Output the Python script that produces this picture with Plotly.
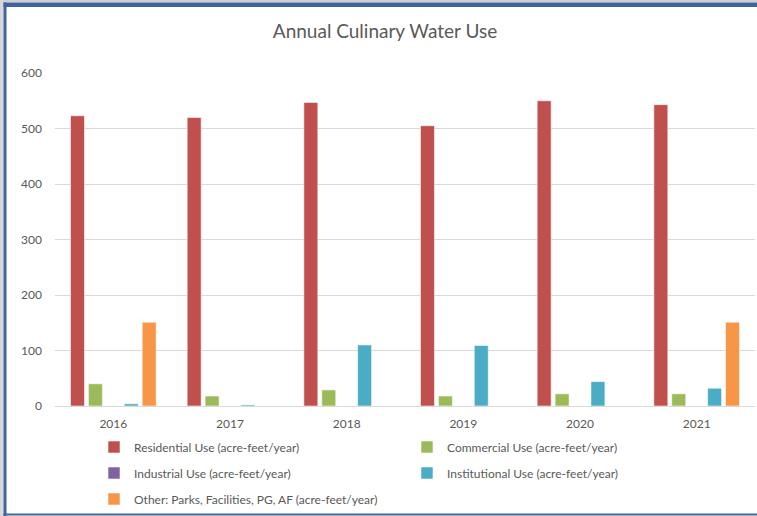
import plotly.graph_objects as go

years = ["2016", "2017", "2018", "2019", "2020", "2021"]
residential = [523, 520, 547, 505, 550, 543]
commercial = [40, 18, 29, 18, 22, 22]
industrial = [0, 0, 0, 0, 0, 0]
institutional = [4, 2, 110, 109, 44, 32]
other = [151, 0, 0, 0, 0, 151]

names = [
    "Residential Use (acre-feet/year)",
    "Commercial Use (acre-feet/year)",
    "Industrial Use (acre-feet/year)",
    "Institutional Use (acre-feet/year)",
    "Other: Parks, Facilities, PG, AF (acre-feet/year)",
]
series = [residential, commercial, industrial, institutional, other]
colors = ["#C0504D", "#9BBB59", "#8064A2", "#4BACC6", "#F79646"]
legend_ids = ["legend", "legend", "legend2", "legend2", "legend3"]

W, H = 757, 516
L, R, T, B = 55, 2, 73, 110

fig = go.Figure()
for n, s, c, lg in zip(names, series, colors, legend_ids):
    fig.add_trace(go.Bar(
        x=years, y=s, name=n,
        marker=dict(color=c, line=dict(color="rgba(255,255,255,0.7)", width=0.8)),
        legend=lg,
    ))

font_family = "Lato, 'Open Sans', sans-serif"
leg_common = dict(
    orientation="h", xref="container", yref="container",
    xanchor="left", yanchor="middle",
    entrywidth=268, entrywidthmode="pixels",
    font=dict(family=font_family, size=12, color="#595959"),
    bgcolor="rgba(0,0,0,0)", borderwidth=0,
    traceorder="normal",
)
lx = 94 / W

fig.update_layout(
    width=W, height=H,
    margin=dict(l=L, r=R, t=T, b=B),
    paper_bgcolor="white", plot_bgcolor="white",
    barmode="group", bargap=0.232, bargroupgap=0.22,
    title=dict(text="Annual Culinary Water Use", x=385 / W, xanchor="center",
               y=1 - 31 / H, yanchor="middle",
               font=dict(family=font_family, size=19, color="#595959")),
    font=dict(family=font_family, size=12, color="#595959"),
    legend=dict(x=lx, y=1 - 447 / H, **leg_common),
    legend2=dict(x=lx, y=1 - 473 / H, **leg_common),
    legend3=dict(x=lx, y=1 - 499 / H, **leg_common),
    xaxis=dict(showgrid=False, showline=True, linecolor="#D9D9D9", linewidth=1,
               ticks="", ticklabelstandoff=7,
               tickfont=dict(size=12, color="#595959")),
    yaxis=dict(range=[0, 600], dtick=100, showgrid=True, gridcolor="#D9D9D9",
               gridwidth=1, zeroline=False, showline=False, ticks="",
               ticklabelstandoff=12,
               tickfont=dict(size=12, color="#595959")),
)

# outer frame (px -> paper coords)
pw, ph = W - L - R, H - T - B
def px(xp):
    return (xp - L) / pw
def py(yp):
    return (H - B - yp) / ph

frame_color = "#3E65A0"
shapes = [
    dict(type="rect", xref="paper", yref="paper", x0=px(0), x1=px(W), y0=py(0), y1=py(2.5),
         fillcolor="#D0D0D0", line=dict(width=0), layer="above"),
    dict(type="rect", xref="paper", yref="paper", x0=px(0), x1=px(3.5), y0=py(0), y1=py(H),
         fillcolor="#D8D8D8", line=dict(width=0), layer="above"),
    dict(type="rect", xref="paper", yref="paper", x0=px(3.5), x1=px(W), y0=py(2.5), y1=py(7),
         fillcolor=frame_color, line=dict(width=0), layer="above"),
    dict(type="rect", xref="paper", yref="paper", x0=px(3.5), x1=px(6.5), y0=py(2.5), y1=py(516),
         fillcolor=frame_color, line=dict(width=0), layer="above"),
    dict(type="rect", xref="paper", yref="paper", x0=px(3.5), x1=px(W), y0=py(513.5), y1=py(515.5),
         fillcolor=frame_color, line=dict(width=0), layer="above"),
]
fig.update_layout(shapes=shapes)

fig.write_html(
    "out.html",
    config={"displayModeBar": False},
    post_script="document.body.style.margin='0';document.body.style.overflow='hidden';",
)
